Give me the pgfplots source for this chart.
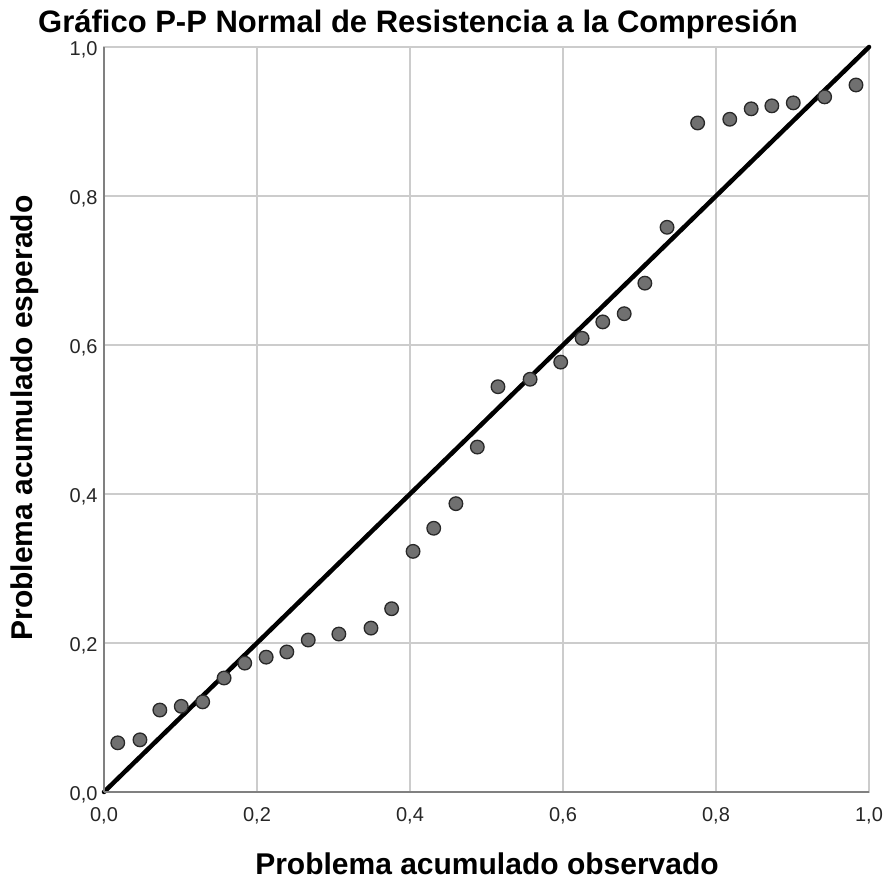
\documentclass[border=0pt]{standalone}
\usepackage{fontspec}
\setmainfont{Liberation Sans}
\usepackage{pgfplots}
\pgfplotsset{compat=1.18}
\definecolor{gridgray}{RGB}{204,204,204}
\definecolor{axgray}{RGB}{128,128,128}
\definecolor{dotfill}{RGB}{112,112,112}
\definecolor{dotedge}{RGB}{40,40,40}
\begin{document}
\begin{tikzpicture}[x=1pt,y=1pt]
\path[use as bounding box] (-104,-91) rectangle (782,792);
\begin{axis}[
  at={(0,0)}, anchor=south west,
  width=765pt, height=745pt, scale only axis,
  xmin=0, xmax=1, ymin=0, ymax=1,
  xtick={0,0.2,0.4,0.6,0.8,1}, ytick={0,0.2,0.4,0.6,0.8,1},
  xticklabels={0{,}0,0{,}2,0{,}4,0{,}6,0{,}8,1{,}0},
  yticklabels={0{,}0,0{,}2,0{,}4,0{,}6,0{,}8,1{,}0},
  major tick length=0pt,
  grid=major,
  grid style={color=gridgray, line width=1.6pt},
  axis line style={draw=gridgray, line width=1.6pt},
  tick label style={font=\fontsize{20}{24}\selectfont, text=black!85},
  xticklabel style={yshift=-12pt},
  yticklabel style={xshift=-3pt, yshift=-3pt},
  clip=false,
]
\addplot[only marks, mark=*, mark size=6.8pt,
  mark options={fill=dotfill, draw=dotedge, line width=1.3pt}]
coordinates {
(0.018,0.066)(0.047,0.070)(0.073,0.110)(0.101,0.115)(0.129,0.121)
(0.157,0.153)(0.184,0.173)(0.212,0.181)(0.239,0.188)(0.267,0.204)
(0.307,0.212)(0.349,0.220)(0.376,0.246)(0.404,0.323)(0.431,0.354)
(0.460,0.387)(0.488,0.463)(0.515,0.544)(0.557,0.554)(0.597,0.577)
(0.625,0.609)(0.652,0.631)(0.680,0.642)(0.707,0.683)(0.736,0.758)
(0.776,0.898)(0.818,0.903)(0.846,0.917)(0.873,0.921)(0.901,0.925)
(0.942,0.933)(0.983,0.949)
};
\addplot[black, line width=4.5pt, line cap=round] coordinates {(0,0)(1,1)};
\draw[axgray, line width=1.8pt] (rel axis cs:0,0) -- (rel axis cs:0,1);
\draw[axgray, line width=1.8pt] (rel axis cs:0,0) -- (rel axis cs:1,0);
\end{axis}
\node[anchor=base west, inner sep=0pt, font=\bfseries\fontsize{31}{37}\selectfont] at (-66,759) {Gráfico P-P Normal de Resistencia a la Compresión};
\node[anchor=base, inner sep=0pt, font=\bfseries\fontsize{30}{36}\selectfont] at (383,-83) {Problema acumulado observado};
\node[anchor=base, rotate=90, inner sep=0pt, font=\bfseries\fontsize{30}{36}\selectfont] at (-71,374) {Problema acumulado esperado};
\end{tikzpicture}
\end{document}
